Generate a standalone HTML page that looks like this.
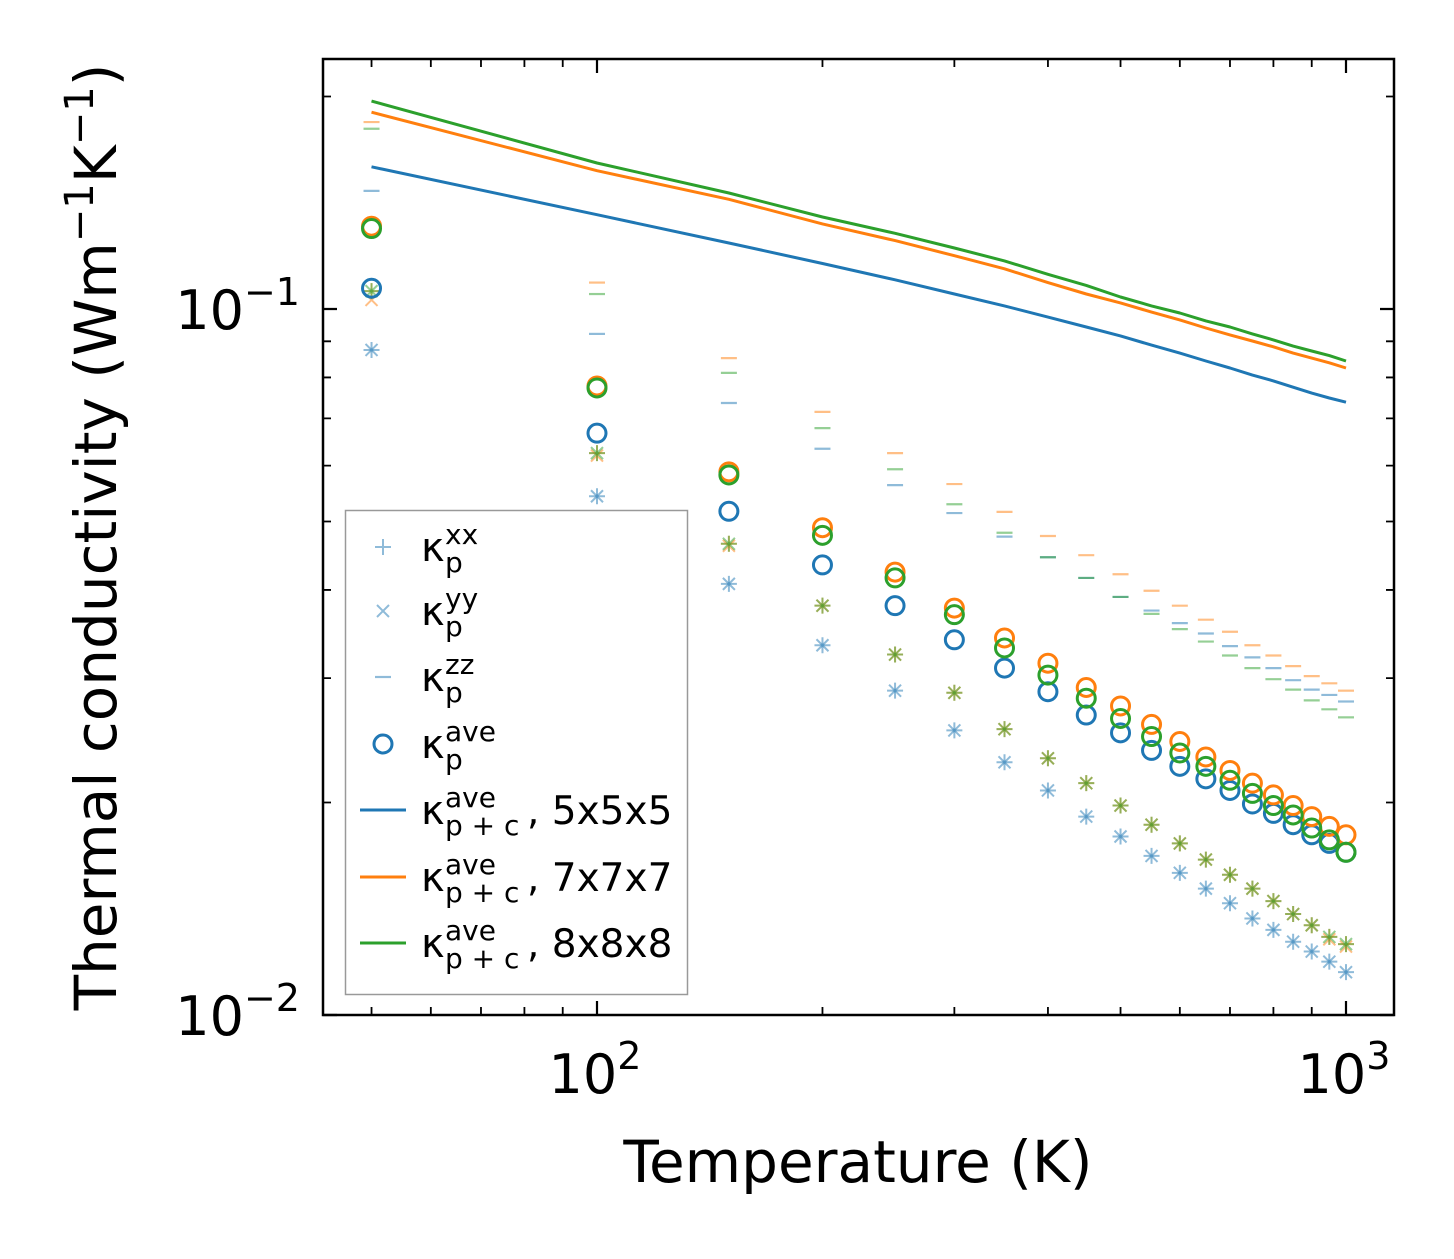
<!DOCTYPE html>
<html><head><meta charset="utf-8"><style>
html,body{margin:0;padding:0;background:#fff;}
svg text{font-family:"DejaVu Sans","Liberation Sans",sans-serif;fill:#000;}
</style></head><body>
<svg id="chart" width="1454" height="1254" viewBox="0 0 1454 1254" xmlns="http://www.w3.org/2000/svg">
<rect width="1454" height="1254" fill="#fff"/>
<g id="marks"></g>
<g id="axes"></g>
<g id="legend"></g>
</svg>
<script>
const temps=[50,100,150,200,250,300,350,400,450,500,550,600,650,700,750,800,850,900,950,1000];
const kxxBlue=[0.0875,0.0543,0.0408,0.0334,0.0288,0.0253,0.0228,0.0208,0.0191,0.0179,0.0168,0.0159,0.0151,0.0144,0.0137,0.0132,0.0127,0.0123,0.0119,0.0115];
const kyyBlue=[0.0875,0.0543,0.0408,0.0334,0.0288,0.0253,0.0228,0.0208,0.0191,0.0179,0.0168,0.0159,0.0151,0.0144,0.0137,0.0132,0.0127,0.0123,0.0119,0.0115];
const kxxOrange=[0.106,0.0625,0.0465,0.0380,0.0324,0.0286,0.0254,0.0231,0.0213,0.0198,0.0186,0.0175,0.0166,0.0158,0.0151,0.0145,0.0139,0.0134,0.0129,0.0126];
const kyyOrange=[0.103,0.0620,0.0462,0.0380,0.0324,0.0286,0.0254,0.0231,0.0213,0.0198,0.0186,0.0175,0.0166,0.0158,0.0151,0.0145,0.0139,0.0134,0.0128,0.0125];
const kxxGreen=[0.106,0.0625,0.0465,0.0380,0.0324,0.0286,0.0254,0.0231,0.0213,0.0198,0.0186,0.0175,0.0166,0.0158,0.0151,0.0145,0.0139,0.0134,0.0129,0.0126];
const kyyGreen=[0.106,0.0625,0.0465,0.0380,0.0324,0.0286,0.0254,0.0231,0.0213,0.0198,0.0186,0.0175,0.0166,0.0158,0.0151,0.0145,0.0139,0.0134,0.0129,0.0126];
const kzzBlue=[0.147,0.0922,0.0736,0.0634,0.0563,0.0514,0.0476,0.0445,0.0416,0.0391,0.0374,0.0359,0.0347,0.0333,0.0321,0.0310,0.0298,0.0289,0.0284,0.0278];
const kzzOrange=[0.184,0.109,0.0852,0.0715,0.0625,0.0565,0.0516,0.0477,0.0448,0.0421,0.0399,0.0380,0.0363,0.0349,0.0334,0.0323,0.0312,0.0302,0.0295,0.0288];
const kzzGreen=[0.180,0.105,0.0812,0.0678,0.0593,0.0529,0.0482,0.0445,0.0416,0.0391,0.0370,0.0352,0.0338,0.0323,0.0310,0.0299,0.0289,0.0279,0.0271,0.0264];
const kaveBlue=[0.107,0.0667,0.0517,0.0434,0.0380,0.0340,0.0310,0.0287,0.0266,0.0251,0.0237,0.0225,0.0216,0.0208,0.0199,0.0193,0.0186,0.0180,0.0175,0.0170];
const kaveOrange=[0.131,0.0778,0.0588,0.0490,0.0424,0.0377,0.0342,0.0315,0.0291,0.0274,0.0258,0.0244,0.0232,0.0222,0.0213,0.0205,0.0198,0.0191,0.0185,0.0180];
const kaveGreen=[0.130,0.0773,0.0582,0.0478,0.0416,0.0369,0.0331,0.0303,0.0281,0.0263,0.0248,0.0235,0.0225,0.0215,0.0206,0.0198,0.0192,0.0184,0.0177,0.0170];
const kpc555=[0.159,0.136,0.124,0.116,0.110,0.105,0.101,0.0974,0.0943,0.0916,0.0889,0.0866,0.0844,0.0825,0.0806,0.0791,0.0775,0.0760,0.0748,0.0738];
const kpc777=[0.190,0.157,0.143,0.132,0.125,0.119,0.114,0.109,0.105,0.102,0.0990,0.0965,0.0940,0.0919,0.0901,0.0884,0.0866,0.0852,0.0839,0.0825];
const kpc888=[0.197,0.161,0.146,0.135,0.128,0.122,0.117,0.112,0.108,0.104,0.101,0.0987,0.0962,0.0943,0.0922,0.0904,0.0886,0.0872,0.0859,0.0844];
const xMajor=[100,1000];
const xMajorLabels=["2","3"];
const yMajor=[0.01,0.1];
const yMajorLabels=["\u22122","\u22121"];

const NS="http://www.w3.org/2000/svg";
const L=323,R=1394,T=59,B=1015;
function xs(v){return 597+(Math.log10(v)-2)*749;}
function ys(v){return 309-(Math.log10(v)+1)*706;}
function mk(tag,attrs,parent){const e=document.createElementNS(NS,tag);for(const k in attrs)e.setAttribute(k,attrs[k]);parent.appendChild(e);return e;}
const marks=document.getElementById('marks');
const axes=document.getElementById('axes');
const legend=document.getElementById('legend');
const C={blue:'#1f77b4',orange:'#ff7f0e',green:'#2ca02c'};

function plus(g,x,y,col,s){return mk('path',{d:`M${x-s} ${y}H${x+s}M${x} ${y-s}V${y+s}`,stroke:col,'stroke-width':2,'stroke-opacity':0.5,fill:'none'},g);}
function cross(g,x,y,col,s){return mk('path',{d:`M${x-s} ${y-s}L${x+s} ${y+s}M${x-s} ${y+s}L${x+s} ${y-s}`,stroke:col,'stroke-width':2,'stroke-opacity':0.5,fill:'none'},g);}
function dash(g,x,y,col,s){return mk('path',{d:`M${x-s} ${y}H${x+s}`,stroke:col,'stroke-width':2.2,'stroke-opacity':0.5,fill:'none'},g);}

const series=[
 {name:'blue',col:C.blue,xx:kxxBlue,yy:kyyBlue,zz:kzzBlue,ave:kaveBlue,line:kpc555},
 {name:'orange',col:C.orange,xx:kxxOrange,yy:kyyOrange,zz:kzzOrange,ave:kaveOrange,line:kpc777},
 {name:'green',col:C.green,xx:kxxGreen,yy:kyyGreen,zz:kzzGreen,ave:kaveGreen,line:kpc888}
];
series.forEach(s=>{
 const g=mk('g',{},marks);
 
 
 temps.forEach((t,i)=>{
  const x=xs(t);
  const a=plus(g,x,ys(s.xx[i]),s.col,8);
  
  
  const b=cross(g,x,ys(s.yy[i]),s.col,6);
  
  
  const c=dash(g,x,ys(s.zz[i]),s.col,8);
  
  
 });
});
series.forEach(s=>{
 const g=mk('g',{},marks);
 
 
 temps.forEach((t,i)=>{
  const c=mk('circle',{cx:xs(t),cy:ys(s.ave[i]),r:9,fill:'none',stroke:s.col,'stroke-width':3},g);
  
  
 });
 const d=temps.map((t,i)=>(i?'L':'M')+xs(t).toFixed(1)+' '+ys(s.line[i]).toFixed(1)).join('');
 const p=mk('path',{d:d,fill:'none',stroke:s.col,'stroke-width':3,'stroke-linejoin':'round'},marks);
 
 
});

const fr=mk('rect',{x:L,y:T,width:R-L,height:B-T,fill:'none',stroke:'#000','stroke-width':2.5},axes);


const xt=[];
for(let d=10;d<=1000;d*=10)for(let m=1;m<10;m++){const v=m*d;const x=xs(v);if(x>=L&&x<=R)xt.push([x,m===1]);}
xt.forEach(([x,maj])=>{const l=maj?14:8;
 const a=mk('path',{d:`M${x} ${B}V${B-l}M${x} ${T}V${T+l}`,stroke:'#000','stroke-width':maj?2.2:1.8},axes);
 
 
});
const yt=[];
for(let d=0.001;d<=1;d*=10)for(let m=1;m<10;m++){const v=m*d;const y=ys(v);if(y>=T-0.5&&y<=B+0.5)yt.push([y,m===1]);}
yt.forEach(([y,maj])=>{const l=maj?14:8;
 const a=mk('path',{d:`M${L} ${y}H${L+l}M${R} ${y}H${R-l}`,stroke:'#000','stroke-width':maj?2.2:1.8},axes);
 
 
});
xMajor.forEach((v,i)=>{
 const t=mk('text',{x:xs(v)-2,y:1093,'font-size':54,'text-anchor':'middle'},axes);
 
 
 t.innerHTML=`10<tspan dy="-24" font-size="38">${xMajorLabels[i]}</tspan>`;
});
yMajor.forEach((v,i)=>{
 const t=mk('text',{x:300,y:ys(v)+20,'font-size':54,'text-anchor':'end'},axes);
 
 
 t.innerHTML=`10<tspan dy="-24" font-size="38">${yMajorLabels[i]}</tspan>`;
});
const xl=mk('text',{x:858,y:1182,'font-size':58,'text-anchor':'middle'},axes);


xl.textContent='Temperature (K)';
const yl=mk('text',{x:0,y:0,'font-size':58,'text-anchor':'middle',transform:'translate(116,537) rotate(-90)'},axes);


yl.innerHTML='Thermal conductivity (Wm<tspan dy="-23" font-size="40">\u22121</tspan><tspan dy="23">K</tspan><tspan dy="-23" font-size="40">\u22121</tspan><tspan dy="23">)</tspan>';

const lb=mk('rect',{x:345.5,y:510.5,width:342,height:484,fill:'#fff','fill-opacity':0.8,stroke:'#999','stroke-width':1.5},legend);


const entries=[
 {y:547,kind:'plus',col:C.blue,sup:'xx',sub:'p',rest:''},
 {y:611,kind:'cross',col:C.blue,sup:'yy',sub:'p',rest:''},
 {y:677,kind:'dash',col:C.blue,sup:'zz',sub:'p',rest:''},
 {y:744,kind:'circle',col:C.blue,sup:'ave',sub:'p',rest:''},
 {y:810,kind:'line',col:C.blue,sup:'ave',sub:'p + c',rest:', 5x5x5'},
 {y:877,kind:'line',col:C.orange,sup:'ave',sub:'p + c',rest:', 7x7x7'},
 {y:943,kind:'line',col:C.green,sup:'ave',sub:'p + c',rest:', 8x8x8'}
];
entries.forEach(e=>{
 const g=mk('g',{},legend);
 
 
 const x=383,y=e.y;
 if(e.kind==='plus')plus(g,x,y,e.col,8);
 else if(e.kind==='cross')cross(g,x,y,e.col,6);
 else if(e.kind==='dash')dash(g,x,y,e.col,8);
 else if(e.kind==='circle')mk('circle',{cx:x,cy:y,r:9,fill:'none',stroke:e.col,'stroke-width':3},g);
 else mk('path',{d:`M360 ${y}H406`,stroke:e.col,'stroke-width':3},g);
 const k=mk('text',{x:421,y:y+14,'font-size':40},g);
 k.textContent='\u03ba';
 const sp=mk('text',{x:445,y:y-3,'font-size':28},g);
 sp.textContent=e.sup;
 const sb=mk('text',{x:445,y:y+25,'font-size':28},g);
 sb.textContent=e.sub;
 if(e.rest){const r=mk('text',{x:527,y:y+14,'font-size':39},g);r.textContent=e.rest;}
});
</script>
</body></html>
